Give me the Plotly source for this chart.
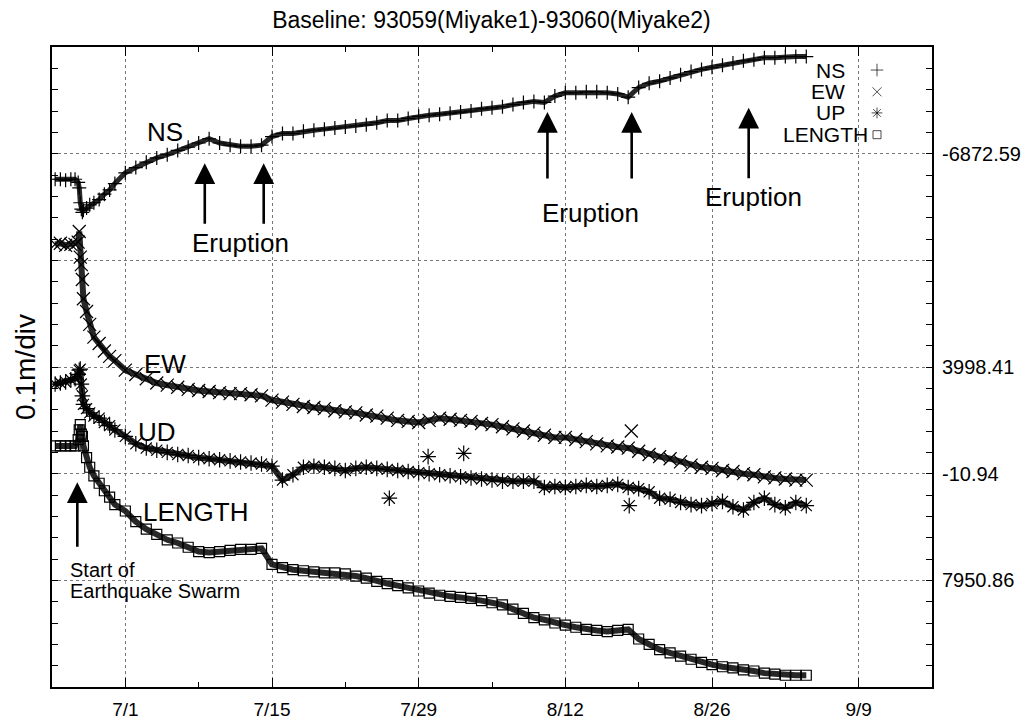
import pandas as pd
import plotly.graph_objects as go

# ---------------- data ----------------
BASE_DATE = "2000-06-24"
# sample times, days after BASE_DATE
DAY_OFFSETS = [0.3, 0.8, 1.3, 1.8, 2.2, 2.5, 2.6, 2.7, 2.8, 2.9, 3.0, 3.3, 3.6, 4.0, 4.5, 5.0, 5.5,
               6, 7, 8, 9, 10, 11, 12, 13, 14, 15, 16, 17, 18, 19, 20, 21, 22, 23, 24, 25, 26, 27,
               28, 29, 30, 31, 32, 33, 34, 35, 36, 37, 38, 39, 40, 41, 42, 43, 44, 45, 46, 47, 48,
               49, 50, 51, 52, 53, 54, 55, 56, 57, 58, 59, 60, 61, 62, 63, 64, 65, 66, 67, 68, 69,
               70, 71, 72]

# displacement in mm relative to each component's reference value
NS_MM = [-24, -24, -25, -24, -24, -27, -32, -46, -52, -55, -53, -51, -48, -46, -43, -38, -34,
         -28, -18, -13, -8, -4, -1, 3, 6, 10, 14, 10, 8, 7, 7, 8, 16, 19, 19, 21, 22, 23, 24,
         25, 26, 27, 29, 31, 31, 33, 35, 36, 37, 38, 39, 40, 42, 43, 44, 46, 48, 49, 48, 54,
         57, 57, 58, 58, 57, 56, 53, 62, 66, 68, 71, 74, 77, 79, 81, 83, 85, 87, 88, 90, 90,
         91, 91, 91]
EW_MM = [115, 116, 114, 115, 115, 117, 127, 103, 96, 82, 64, 52, 40, 28, 22, 15, 10,
         6, -3, -7, -11, -15, -17, -19, -21, -22, -23, -24, -25, -25, -26, -27, -31, -33, -35,
         -37, -38, -39, -41, -42, -43, -45, -46, -48, -50, -51, -52, -50, -48, -49, -50, -51,
         -53, -54, -56, -58, -60, -62, -64, -66, -66, -68, -70, -72, -74, -75, -76, -79, -82,
         -84, -86, -89, -92, -94, -95, -97, -98, -100, -101, -103, -104, -105, -106, -106]
UD_MM = [84, 85, 86, 88, 89, 93, 97, 98, 84, 73, 65, 61, 57, 54, 52, 48, 45,
         41, 35, 28, 24, 22, 20, 18, 17, 15, 14, 13, 12, 11, 10, 9, 7, -6, -1, 6, 7, 6, 5, 3,
         5, 6, 5, 4, 3, 2, 1, 0, -1, -2, -3, -4, -5, -6, -7, -7, -7, -7, -13, -12, -13, -12,
         -11, -12, -11, -10, -13, -14, -17, -23, -24, -27, -29, -30, -28, -26, -31, -34, -27,
         -23, -29, -32, -27, -30]
LENGTH_MM = [126, 126, 126, 126, 126, 132, 141, 146, 137, 135, 126, 115, 106, 98, 91, 84, 78,
             71, 65, 55, 48, 43, 38, 35, 31, 27, 26, 27, 28, 29, 29, 30, 15, 12, 10, 9, 8, 7,
             7, 6, 4, 2, -1, -3, -5, -7, -10, -12, -14, -15, -16, -17, -19, -21, -23, -27, -31,
             -35, -37, -40, -42, -44, -46, -47, -48, -47, -46, -55, -60, -65, -68, -71, -74,
             -77, -79, -81, -82, -84, -85, -87, -88, -89, -89, -89]

# isolated points standing off the bands
UD_OUT_DAYS = [32.2, 35.9, 39.3, 55.1]
UD_OUT_MM = [-23, 16, 19, -30]
EW_OUT_DAYS = [55.3]
EW_OUT_MM = [-60]

SERIES = ["NS", "EW", "UD", "LENGTH"]
LEGEND_NAMES = ["NS", "EW", "UP", "LENGTH"]
REF_LABELS = ["-6872.59", "3998.41", "-10.94", "7950.86"]
X_TICKS = ["2000-07-01", "2000-07-15", "2000-07-29", "2000-08-12", "2000-08-26", "2000-09-09"]
X_TICK_TEXT = ["7/1", "7/15", "7/29", "8/12", "8/26", "9/9"]

# ---------------- layout constants ----------------
REF_DIV = [5, 3, 2, 1]          # division at which each component's reference sits
MM_PER_DIV = 100.0              # 0.1 m per division
FONT = "Liberation Sans, Arial, Helvetica, sans-serif"

base = pd.Timestamp(BASE_DATE)


def to_dates(days):
    return [base + pd.Timedelta(days=d) for d in days]


def to_y(mm, ref):
    return [ref + v / MM_PER_DIV for v in mm]


times = to_dates(DAY_OFFSETS)
fig = go.Figure()

symbols = ["cross-thin-open", "x-thin-open", "asterisk-open", "square-open"]
sizes = [10, 13, 13, 10]
band = [5, 6, 6, 6]
values = [NS_MM, EW_MM, UD_MM, LENGTH_MM]
extra = {"EW": (EW_OUT_DAYS, EW_OUT_MM), "UD": (UD_OUT_DAYS, UD_OUT_MM)}

for name, vals, ref, sym, sz, bw in zip(SERIES, values, REF_DIV, symbols, sizes, band):
    ys = to_y(vals, ref)
    fig.add_trace(go.Scatter(
        x=times, y=ys, mode="lines+markers", name=name, showlegend=False,
        line=dict(color="rgba(15,15,15,0.9)", width=bw),
        marker=dict(symbol=sym, size=sz, color="black", line=dict(color="black", width=1.2)),
    ))
    if name in extra:
        d, m = extra[name]
        fig.add_trace(go.Scatter(
            x=to_dates(d), y=to_y(m, ref), mode="markers", showlegend=False,
            marker=dict(symbol=sym, size=sz, color="black", line=dict(color="black", width=1.2)),
        ))

# right-hand reference labels on an overlaid axis
fig.add_trace(go.Scatter(x=[times[0]], y=[REF_DIV[0]], yaxis="y2", mode="markers",
                         marker=dict(opacity=0), showlegend=False, hoverinfo="skip"))

# gnuplot-style key (text, then sample symbol) on a unit overlay axis
KEY_Y = [0.964, 0.930, 0.897, 0.863]
KEY_TEXT_X = [0.903, 0.903, 0.903, 0.929]
KEY_SYM_X = 0.9375
key_sizes = [9, 9, 9, 8]
fig.add_trace(go.Scatter(
    x=[KEY_SYM_X] * 4, y=KEY_Y, xaxis="x2", yaxis="y3", mode="markers",
    showlegend=False, hoverinfo="skip",
    marker=dict(symbol=symbols, size=key_sizes, color="black",
                line=dict(color="black", width=1)),
))

ann = []
txt_font = dict(family=FONT, size=26, color="black")
small_font = dict(family=FONT, size=20, color="black")
ann += [
    dict(x="2000-07-04 19:00", y=5.20, text="NS", showarrow=False, font=txt_font),
    dict(x="2000-07-04 19:00", y=3.03, text="EW", showarrow=False, font=txt_font),
    dict(x="2000-07-04 01:00", y=2.39, text="UD", showarrow=False, font=txt_font),
    dict(x="2000-07-07 17:00", y=1.64, text="LENGTH", showarrow=False, font=txt_font),
    dict(x="2000-07-12 00:00", y=4.16, text="Eruption", showarrow=False, font=txt_font),
    dict(x="2000-08-14 10:00", y=4.44, text="Eruption", showarrow=False, font=txt_font),
    dict(x="2000-08-30 00:00", y=4.59, text="Eruption", showarrow=False, font=txt_font),
    dict(x="2000-06-25 13:00", y=1.10, text="Start of", showarrow=False, xanchor="left",
         font=small_font),
    dict(x="2000-06-25 13:00", y=0.90, text="Earthquake Swarm", showarrow=False, xanchor="left",
         font=small_font),
]
# arrows (head position, tail offset in pixels)
ERUPTION_ARROWS = [("2000-07-08 14:00", 4.91, 62), ("2000-07-14 05:00", 4.91, 62),
                   ("2000-08-10 07:00", 5.39, 68), ("2000-08-18 08:00", 5.39, 68),
                   ("2000-08-29 12:00", 5.43, 72), ("2000-06-26 10:00", 1.92, 66)]
for xa, ya, off in ERUPTION_ARROWS:
    ann.append(dict(x=xa, y=ya, ax=0, ay=off, text="", showarrow=True, arrowhead=2,
                    arrowsize=1.6, arrowwidth=2.6, arrowcolor="black"))

for nm, yy, xx in zip(LEGEND_NAMES, KEY_Y, KEY_TEXT_X):
    ann.append(dict(xref="paper", yref="paper", x=xx, y=yy, text=nm, showarrow=False,
                    xanchor="right", yanchor="middle", font=dict(family=FONT, size=21, color="black")))

grid = dict(showgrid=True, gridcolor="#777", griddash="dot", gridwidth=1)

fig.update_layout(
    width=1028, height=720,
    margin=dict(l=52, r=96, t=47, b=33, autoexpand=False),
    paper_bgcolor="white", plot_bgcolor="white",
    font=dict(family=FONT, color="black"),
    title=dict(text="Baseline: 93059(Miyake1)-93060(Miyake2)", x=0.478, xanchor="center",
               y=0.972, yanchor="middle", font=dict(family=FONT, size=23, color="black")),
    xaxis=dict(type="date", range=["2000-06-24", "2000-09-16"], automargin=False,
               tickmode="array", tickvals=X_TICKS, ticktext=X_TICK_TEXT,
               ticks="inside", ticklen=9, tickwidth=1.3, tickcolor="black",
               minor=dict(tickmode="linear", tick0="2000-06-24", dtick=7 * 86400000,
                          ticks="inside", ticklen=5, tickcolor="black", showgrid=False),
               showline=True, linecolor="black", linewidth=1.6, mirror="ticks",
               tickfont=dict(family=FONT, size=19), ticklabelstandoff=4,
               zeroline=False, **grid),
    yaxis=dict(range=[0, 6], tickmode="linear", tick0=0, dtick=1, showticklabels=False,
               automargin=False,
               ticks="inside", ticklen=6, tickwidth=1.3, tickcolor="black",
               minor=dict(tickmode="linear", tick0=0, dtick=0.2, ticks="inside", ticklen=6,
                          tickcolor="black", showgrid=False),
               showline=True, linecolor="black", linewidth=1.6, mirror="ticks", zeroline=False,
               title=dict(text="0.1m/div", font=dict(family=FONT, size=28), standoff=6),
               **grid),
    yaxis2=dict(overlaying="y", side="right", range=[0, 6], tickmode="array", automargin=False,
                tickvals=REF_DIV, ticktext=REF_LABELS, showgrid=False, zeroline=False,
                showline=False, ticks="", tickfont=dict(family=FONT, size=20),
                ticklabelstandoff=9),
    xaxis2=dict(overlaying="x", range=[0, 1], visible=False, automargin=False),
    yaxis3=dict(overlaying="y", range=[0, 1], visible=False, automargin=False),
    annotations=ann,
    showlegend=False,
)

fig.write_html("out.html")
